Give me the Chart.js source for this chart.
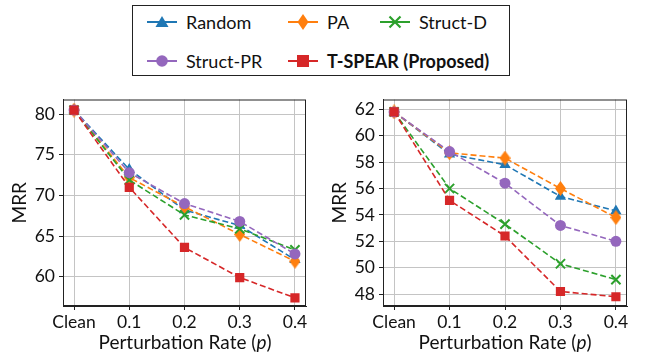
<!DOCTYPE html>
<html>
<head>
<meta charset="utf-8">
<script src="https://cdn.jsdelivr.net/npm/chart.js@4.4.1/dist/chart.umd.min.js"></script>
<style>
  html, body { margin: 0; padding: 0; background: #fff; }
  body { width: 645px; height: 352px; position: relative; overflow: hidden; font-family: Lato, "Open Sans", sans-serif; color: #111; }
  .panel { position: absolute; top: 85px; height: 267px; }
  .xtitle { position: absolute; top: 330px; font-size: 19px; white-space: nowrap; transform: translateX(-50%); }
  .legend { position: absolute; left: 132px; top: 5px; width: 378px; height: 71px; border: 1px solid #222; box-sizing: border-box; }
  .item { position: absolute; font-size: 18px; display: flex; align-items: center; white-space: nowrap; }
  .item svg { margin-right: 9px; }
</style>
</head>
<body>
<div class="legend" id="legend"></div>
<div class="panel" style="left:0;width:320px"><canvas id="left"></canvas></div>
<div class="panel" style="left:320px;width:325px"><canvas id="right"></canvas></div>
<div class="xtitle" style="left:185px">Perturbation Rate (<i>p</i>)</div>
<div class="xtitle" style="left:505px">Perturbation Rate (<i>p</i>)</div>
<script>
const rates = ['Clean', '0.1', '0.2', '0.3', '0.4'];
const methods = ['Random', 'PA', 'Struct-D', 'Struct-PR', 'T-SPEAR (Proposed)'];
const colors = ['#1f77b4', '#ff7f0e', '#2ca02c', '#9467bd', '#d62728'];

// left panel
const leftRandom = [80.5, 73.2, 68.2, 66.3, 62.1];
const leftPA = [80.5, 72.2, 68.6, 65.2, 61.9];
const leftStructD = [80.5, 71.9, 67.6, 65.9, 63.3];
const leftStructPR = [80.5, 72.8, 69.0, 66.8, 62.8];
const leftTSpear = [80.5, 71.0, 63.6, 59.9, 57.4];

// right panel
const rightRandom = [61.8, 58.6, 57.8, 55.4, 54.3];
const rightPA = [61.8, 58.7, 58.3, 56.0, 53.8];
const rightStructD = [61.8, 56.0, 53.3, 50.3, 49.1];
const rightStructPR = [61.8, 58.8, 56.4, 53.2, 52.0];
const rightTSpear = [61.8, 55.1, 52.4, 48.2, 47.8];

const leftTicks = [60, 65, 70, 75, 80];
const rightTicks = [48, 50, 52, 54, 56, 58, 60, 62];

// thin diamond like matplotlib 'd'
function thinDiamond(color) {
  const c = document.createElement('canvas');
  c.width = 11; c.height = 15;
  const g = c.getContext('2d');
  g.fillStyle = color;
  g.beginPath();
  g.moveTo(5.5, 0); g.lineTo(11, 7.5); g.lineTo(5.5, 15); g.lineTo(0, 7.5);
  g.closePath(); g.fill();
  return c;
}

const styles = [
  { pointStyle: 'triangle', radius: 6.5 },
  { pointStyle: thinDiamond(colors[1]), radius: 6 },
  { pointStyle: 'crossRot', radius: 6.5, borderWidth: 2 },
  { pointStyle: 'circle', radius: 5.5 },
  { pointStyle: 'rect', radius: 6.5 }
];

function makeChart(id, series, yMin, yMax, ticks, rightPad) {
  const datasets = series.map((vals, i) => ({
    label: methods[i],
    data: vals.map((v, k) => ({ x: k, y: v })),
    borderColor: colors[i],
    backgroundColor: colors[i],
    borderWidth: 1.6,
    borderDash: [6, 3],
    pointStyle: styles[i].pointStyle,
    pointRadius: styles[i].radius,
    pointBorderWidth: styles[i].borderWidth || 0,
    pointBorderColor: colors[i],
    order: series.length - i
  }));
  return new Chart(document.getElementById(id), {
    type: 'line',
    data: { datasets },
    options: {
      responsive: false,
      animation: false,
      layout: { padding: { top: 10, right: rightPad, bottom: 0, left: 0 } },
      plugins: { legend: { display: false }, tooltip: { enabled: false } },
      scales: {
        x: {
          type: 'linear', min: -0.2, max: 4.2,
          afterBuildTicks: (ax) => { ax.ticks = rates.map((_, k) => ({ value: k })); },
          afterFit: (ax) => { ax.height = 46; },
          ticks: { callback: (v) => rates[v], color: '#111', font: { family: 'Lato', size: 17.5 }, padding: 2, maxRotation: 0 },
          grid: { color: '#c4c4c4', lineWidth: 1, tickLength: 4, tickColor: '#222' },
          border: { color: '#222', width: 1 }
        },
        y: {
          min: yMin, max: yMax,
          afterBuildTicks: (ax) => { ax.ticks = ticks.map(v => ({ value: v })); },
          afterFit: (ax) => { ax.width = 63; },
          ticks: { color: '#111', font: { family: 'Lato', size: 17.5 }, padding: 4 },
          grid: { color: '#c4c4c4', lineWidth: 1, tickLength: 4, tickColor: '#222' },
          border: { color: '#222', width: 1 },
          title: { display: true, text: 'MRR', color: '#111', font: { family: 'Lato', size: 19 }, padding: { top: 8, bottom: 0 } }
        }
      }
    },
    plugins: [{
      id: 'frame',
      afterDraw(chart) {
        const a = chart.chartArea, g = chart.ctx;
        g.save(); g.strokeStyle = '#222'; g.lineWidth = 1;
        g.strokeRect(a.left + 0.5, a.top + 0.5, a.right - a.left - 1, a.bottom - a.top - 1);
        g.restore();
      }
    }]
  });
}

document.getElementById('left').width = 320;
document.getElementById('left').height = 267;
document.getElementById('right').width = 325;
document.getElementById('right').height = 267;

makeChart('left', [leftRandom, leftPA, leftStructD, leftStructPR, leftTSpear], 56.4, 81.8, leftTicks, 14);
makeChart('right', [rightRandom, rightPA, rightStructD, rightStructPR, rightTSpear], 47.1, 62.74, rightTicks, 18);

// legend
function markerSvg(i) {
  const c = colors[i];
  let m = '';
  if (i === 0) m = `<polygon points="15,2 21.5,13 8.5,13" fill="${c}"/>`;
  if (i === 1) m = `<polygon points="15,0 20.5,8 15,16 9.5,8" fill="${c}"/>`;
  if (i === 2) m = `<path d="M9.5,2.5 L20.5,13.5 M20.5,2.5 L9.5,13.5" stroke="${c}" stroke-width="2.2"/>`;
  if (i === 3) m = `<circle cx="15" cy="8" r="5.8" fill="${c}"/>`;
  if (i === 4) m = `<rect x="9" y="2" width="12" height="12" fill="${c}"/>`;
  return `<svg width="30" height="16"><line x1="0" y1="8" x2="30" y2="8" stroke="${c}" stroke-width="2"/>${m}</svg>`;
}
const pos = [[14, 9], [155, 9], [247, 9], [14, 48], [155, 48]];
const legend = document.getElementById('legend');
methods.forEach((name, i) => {
  const d = document.createElement('div');
  d.className = 'item';
  d.style.left = pos[i][0] + 'px';
  d.style.top = (pos[i][1] - 4) + 'px';
  const label = i === 4 ? `<b>${name}</b>` : name;
  d.innerHTML = markerSvg(i) + '<span>' + label + '</span>';
  legend.appendChild(d);
});
</script>
</body>
</html>
